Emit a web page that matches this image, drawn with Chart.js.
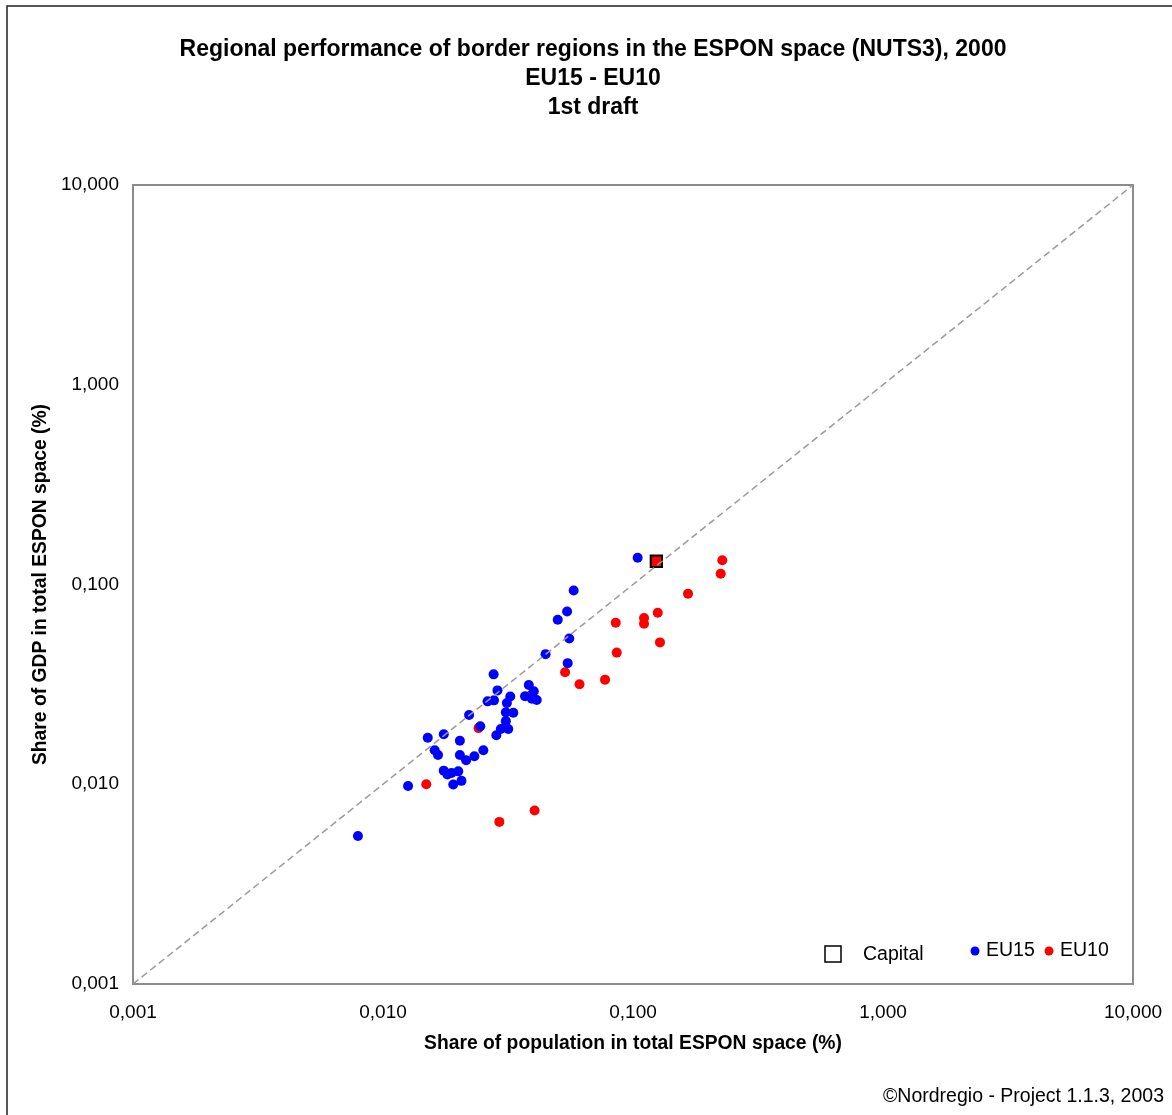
<!DOCTYPE html>
<html>
<head>
<meta charset="utf-8">
<script src="https://cdn.jsdelivr.net/npm/chart.js"></script>
<style>
  html, body { margin: 0; padding: 0; background: #fff; }
  #wrap { width: 1172px; height: 1115px; }
</style>
</head>
<body>
<div id="wrap"><canvas id="myChart" width="1172" height="1115"></canvas></div>
<script>
// axis ticks
const tickValues = [0.001, 0.01, 0.1, 1, 10];
const tickLabels = ['0,001', '0,010', '0,100', '1,000', '10,000'];

// EU15 regions: share of population / share of GDP (%)
const eu15Pop = [0.0579, 0.0545, 0.0500, 0.0556, 0.0447, 0.0548, 0.0277, 0.0383, 0.0287, 0.0401,
  0.0370, 0.0412, 0.0394, 0.0323, 0.0262, 0.0278, 0.0313, 0.0221, 0.0310, 0.0332,
  0.0310, 0.0245, 0.0296, 0.0317, 0.0284, 0.0151, 0.0175, 0.0203, 0.0161, 0.0166,
  0.0203, 0.0252, 0.0215, 0.0232, 0.0175, 0.0181, 0.0188, 0.0200, 0.0206, 0.0191,
  0.0126, 0.00794, 0.1044];
const eu15Gdp = [0.0933, 0.0733, 0.0666, 0.0537, 0.0448, 0.0404, 0.0355, 0.0314, 0.0295, 0.0292,
  0.0276, 0.0264, 0.0268, 0.0275, 0.0260, 0.0263, 0.0255, 0.0222, 0.0229, 0.0228,
  0.0207, 0.0195, 0.0189, 0.0189, 0.0176, 0.0171, 0.0178, 0.0165, 0.0148, 0.0140,
  0.0140, 0.0148, 0.0132, 0.0138, 0.0117, 0.0112, 0.0114, 0.0116, 0.0104, 0.00997,
  0.0098, 0.00551, 0.136];

// EU10 regions
const eu10Pop = [0.0535, 0.0611, 0.0394, 0.0241, 0.0149, 0.0292, 0.0404, 0.2276, 0.2243, 0.166,
  0.1256, 0.1107, 0.1107, 0.0853, 0.1282, 0.0861, 0.0773];
const eu10Gdp = [0.0364, 0.0317, 0.0282, 0.0191, 0.0100, 0.00648, 0.00739, 0.1323, 0.1131, 0.0898,
  0.0722, 0.0679, 0.0636, 0.0644, 0.0513, 0.0456, 0.0334];

// capital region
const capitalPop = [0.124];
const capitalGdp = [0.1307];

// equal-share diagonal
const diagonal = [0.001, 10];

const toPoints = (xs, ys) => xs.map((x, i) => ({ x: x, y: ys[i] }));
const font = '"Liberation Sans", Arial, sans-serif';

// frame, titles, legend and footer
const decorations = {
  id: 'decorations',
  beforeDatasetsDraw(chart) {
    const { ctx, chartArea: a } = chart;
    ctx.save();
    ctx.strokeStyle = '#8c8c8c';
    ctx.lineWidth = 2;
    ctx.strokeRect(a.left, a.top, a.right - a.left, a.bottom - a.top);
    ctx.restore();
  },
  afterDraw(chart) {
    const { ctx, chartArea: a } = chart;
    ctx.save();
    // outer border of the figure
    ctx.strokeStyle = '#222';
    ctx.lineWidth = 1.5;
    ctx.beginPath();
    ctx.moveTo(7, 1115);
    ctx.lineTo(7, 6);
    ctx.lineTo(1172, 6);
    ctx.stroke();

    ctx.fillStyle = '#000';
    ctx.textAlign = 'center';
    ctx.textBaseline = 'middle';
    ctx.font = 'bold 23px ' + font;
    ctx.fillText('Regional performance of border regions in the ESPON space (NUTS3), 2000', 593, 50);
    ctx.fillText('EU15 - EU10', 593, 79);
    ctx.fillText('1st draft', 593, 108);

    // legend
    ctx.font = '19.5px ' + font;
    ctx.textAlign = 'left';
    const ly = a.bottom - 31;
    ctx.strokeStyle = '#000';
    ctx.lineWidth = 1.5;
    ctx.strokeRect(a.right - 308, ly - 7, 16, 16);
    ctx.fillText('Capital', a.right - 270, ly + 2);
    ctx.fillStyle = '#0000ff';
    ctx.beginPath();
    ctx.arc(a.right - 158, ly - 2, 4.5, 0, Math.PI * 2);
    ctx.fill();
    ctx.fillStyle = '#000';
    ctx.fillText('EU15', a.right - 147, ly - 2);
    ctx.fillStyle = '#ff0000';
    ctx.beginPath();
    ctx.arc(a.right - 84, ly - 2, 4.5, 0, Math.PI * 2);
    ctx.fill();
    ctx.fillStyle = '#000';
    ctx.fillText('EU10', a.right - 73, ly - 2);

    // footer
    ctx.textAlign = 'right';
    ctx.fillText('\u00A9Nordregio - Project 1.1.3, 2003', 1164, 1097);
    ctx.restore();
  }
};

const logAxis = (titleText, fitSize, titlePad, tickPad) => ({
  type: 'logarithmic',
  min: 0.001,
  max: 10,
  grid: { display: false, drawTicks: false },
  border: { display: false },
  afterBuildTicks: scale => { scale.ticks = tickValues.map(v => ({ value: v })); },
  afterFit: scale => {
    // fixed axis size, no extra room for label overflow
    if (scale.isHorizontal()) scale.height = fitSize; else scale.width = fitSize;
    scale.paddingLeft = scale.paddingRight = scale.paddingTop = scale.paddingBottom = 0;
  },
  ticks: {
    padding: tickPad,
    color: '#000',
    font: { size: 19, family: font },
    callback: value => tickLabels[tickValues.indexOf(value)]
  },
  title: {
    display: true,
    text: titleText,
    color: '#000',
    padding: titlePad,
    font: { size: 19.3, weight: 'bold', family: font }
  }
});

new Chart(document.getElementById('myChart'), {
  type: 'scatter',
  data: {
    datasets: [
      {
        label: 'diagonal',
        type: 'line',
        data: toPoints(diagonal, diagonal),
        borderColor: '#9a9a9a',
        borderWidth: 1.5,
        borderDash: [7, 4],
        pointRadius: 0,
        fill: false
      },
      {
        label: 'EU15',
        data: toPoints(eu15Pop, eu15Gdp),
        backgroundColor: '#0000ff',
        borderWidth: 0,
        pointRadius: 5
      },
      {
        label: 'EU10',
        data: toPoints(eu10Pop, eu10Gdp),
        backgroundColor: '#ff0000',
        borderWidth: 0,
        pointRadius: 5
      },
      {
        label: 'Capital',
        data: toPoints(capitalPop, capitalGdp),
        pointStyle: 'rect',
        backgroundColor: '#ff0000',
        borderColor: '#000',
        borderWidth: 2,
        pointRadius: 8
      }
    ]
  },
  options: {
    responsive: false,
    animation: false,
    layout: { padding: { top: 185, right: 39, bottom: 51, left: 0 } },
    plugins: {
      legend: { display: false },
      title: { display: false },
      tooltip: { enabled: false }
    },
    scales: {
      x: logAxis('Share of population in total ESPON space (%)', 80, { top: 0, bottom: 9 }, 17),
      y: logAxis('Share of GDP in total ESPON space (%)', 133, { top: 29, bottom: 0 }, 14)
    }
  },
  plugins: [decorations]
});
</script>
</body>
</html>
